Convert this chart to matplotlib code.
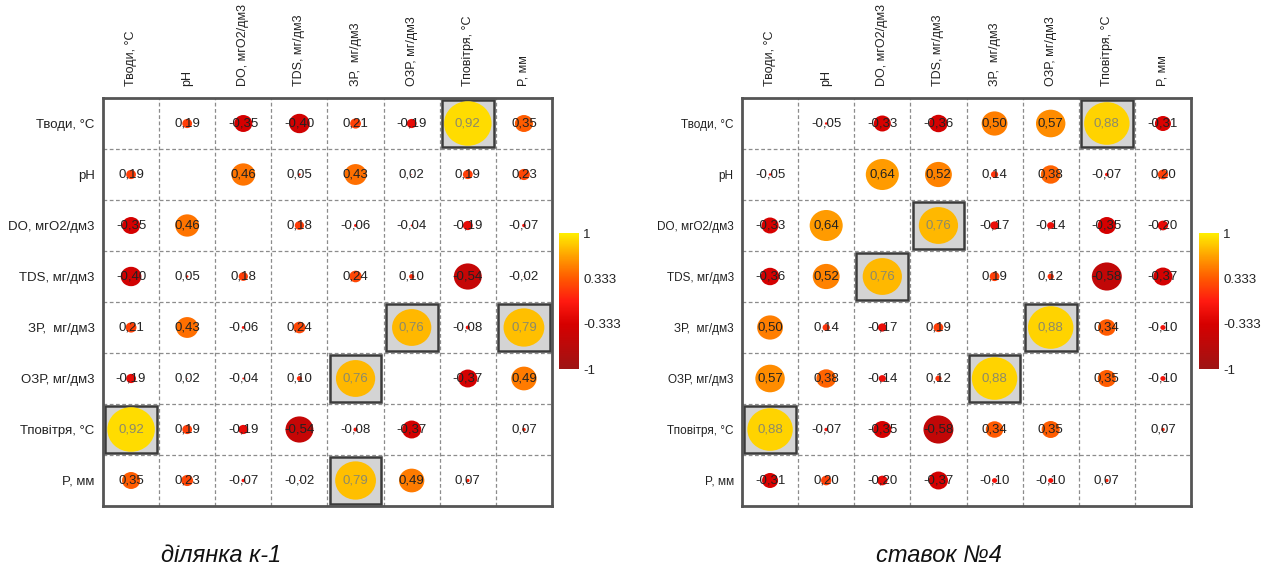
import numpy as np
import matplotlib
matplotlib.use("Agg")
import matplotlib.pyplot as plt
from matplotlib.patches import Ellipse, Rectangle
from matplotlib.colors import LinearSegmentedColormap, Normalize
from matplotlib.cm import ScalarMappable

plt.rcParams['font.family'] = ['Liberation Sans', 'DejaVu Sans']

# variable names (same order on both axes)
labels = ["Тводи, °C", "pH", "DO, мгO2/дм3", "TDS, мг/дм3",
          "ЗР,  мг/дм3", "ОЗР, мг/дм3", "Тповітря, °C", "P, мм"]

# correlation matrix, site k-1 (diagonal left empty)
corr_k1 = [
    [np.nan, 0.19, -0.35, -0.40, 0.21, -0.19, 0.92, 0.35],
    [0.19, np.nan, 0.46, 0.05, 0.43, 0.02, 0.19, 0.23],
    [-0.35, 0.46, np.nan, 0.18, -0.06, -0.04, -0.19, -0.07],
    [-0.40, 0.05, 0.18, np.nan, 0.24, 0.10, -0.54, -0.02],
    [0.21, 0.43, -0.06, 0.24, np.nan, 0.76, -0.08, 0.79],
    [-0.19, 0.02, -0.04, 0.10, 0.76, np.nan, -0.37, 0.49],
    [0.92, 0.19, -0.19, -0.54, -0.08, -0.37, np.nan, 0.07],
    [0.35, 0.23, -0.07, -0.02, 0.79, 0.49, 0.07, np.nan],
]

# correlation matrix, pond No4
corr_pond4 = [
    [np.nan, -0.05, -0.33, -0.36, 0.50, 0.57, 0.88, -0.31],
    [-0.05, np.nan, 0.64, 0.52, 0.14, 0.38, -0.07, 0.20],
    [-0.33, 0.64, np.nan, 0.76, -0.17, -0.14, -0.35, -0.20],
    [-0.36, 0.52, 0.76, np.nan, 0.19, 0.12, -0.58, -0.37],
    [0.50, 0.14, -0.17, 0.19, np.nan, 0.88, 0.34, -0.10],
    [0.57, 0.38, -0.14, 0.12, 0.88, np.nan, 0.35, -0.10],
    [0.88, -0.07, -0.35, -0.58, 0.34, 0.35, np.nan, 0.07],
    [-0.31, 0.20, -0.20, -0.37, -0.10, -0.10, 0.07, np.nan],
]

titles = ["ділянка к-1", "ставок №4"]
cbar_ticks = [-1, -0.333, 0.333, 1]
strong = 0.7  # |r| above this gets a framed grey cell

cmap = LinearSegmentedColormap.from_list("redyel", [
    (0.0, "#9e1414"), (0.33, "#d60000"), (0.5, "#ff1a10"),
    (0.67, "#ff5a00"), (0.83, "#ffa000"), (1.0, "#ffee00")])
norm = Normalize(-1, 1)

W, H = 1274, 571
fig = plt.figure(figsize=(W / 100, H / 100), dpi=100)


def draw_matrix(ax, m, row_fs):
    m = np.array(m)
    n = len(labels)
    ax.set_xlim(0, n)
    ax.set_ylim(n, 0)
    for k in range(1, n):
        ax.axhline(k, color="#8c8c8c", lw=0.9, ls=(0, (3, 2)), zorder=1)
        ax.axvline(k, color="#8c8c8c", lw=0.9, ls=(0, (3, 2)), zorder=1)
    for i in range(n):
        for j in range(n):
            v = m[i, j]
            if np.isnan(v):
                continue
            cx, cy = j + 0.5, i + 0.5
            hi = abs(v) >= strong
            if hi:
                ax.add_patch(Rectangle((j + 0.04, i + 0.04), 0.92, 0.92,
                                       facecolor="#d4d4d4", edgecolor="#3c3c3c",
                                       lw=1.8, zorder=2))
            ax.add_patch(Ellipse((cx, cy), abs(v) * 0.92, abs(v) * 0.95,
                                 facecolor=cmap(norm(v)), edgecolor="none", zorder=3))
            txt = f"{v:.2f}".replace(".", ",")
            ax.text(cx, cy, txt, ha="center", va="center", fontsize=9.5,
                    color="#8c8a6a" if hi else "#222222", zorder=4)
    ax.set_xticks(np.arange(n) + 0.5)
    ax.set_yticks(np.arange(n) + 0.5)
    ax.xaxis.tick_top()
    ax.set_xticklabels(labels, rotation=90, fontsize=9, color="#222222")
    ax.set_yticklabels(labels, fontsize=row_fs, color="#222222")
    ax.tick_params(axis="x", length=0, pad=9)
    ax.tick_params(axis="y", length=0, pad=6)
    for s in ax.spines.values():
        s.set_color("#555555")
        s.set_linewidth(2)


for k, (m, ttl) in enumerate(zip([corr_k1, corr_pond4], titles)):
    x0 = [103, 742][k]
    ax = fig.add_axes([x0 / W, 65 / H, 449 / W, 408 / H])
    draw_matrix(ax, m, [9.5, 8.5][k])
    cax = fig.add_axes([[559, 1199][k] / W, 202 / H, 20 / W, 136 / H])
    cb = fig.colorbar(ScalarMappable(norm=norm, cmap=cmap), cax=cax, ticks=cbar_ticks)
    cb.ax.set_yticklabels(["-1", "-0.333", "0.333", "1"])
    cb.ax.tick_params(length=0, labelsize=9.5, colors="#222222", pad=3)
    cb.outline.set_visible(False)
    fig.text([221, 939][k] / W, 15 / H, ttl, ha="center", va="center",
             fontsize=17, style="italic", color="#111111")

fig.savefig("out.png", dpi=100)
